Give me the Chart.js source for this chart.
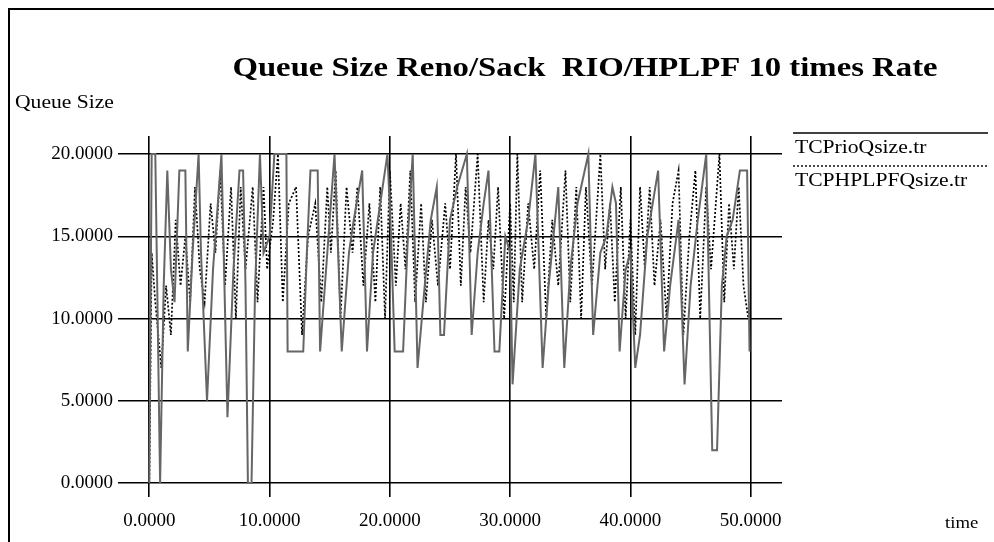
<!DOCTYPE html>
<html>
<head>
<meta charset="utf-8">
<title>Queue Size Reno/Sack RIO/HPLPF</title>
<script src="https://cdn.jsdelivr.net/npm/chart.js@4.4.1/dist/chart.umd.min.js"></script>
<style>
    html, body { margin: 0; padding: 0; background: #fff; }
    canvas { display: block; }
</style>
</head>
<body>
<canvas id="queueChart" width="994" height="542"></canvas>
<script>
// TCPrioQsize.tr trace
const prioTime = [
    0, 0.2, 0.5, 0.9, 1.2, 1.5, 1.8, 2.1, 2.5, 3.0, 3.2, 3.6, 4.1, 4.3, 4.8, 5.3, 6.0, 6.5, 7.0, 7.5,
    7.8, 8.0, 8.2, 8.5, 8.8, 9.2, 9.5, 10.0, 10.4, 11.4, 11.5, 12.8, 13.1, 13.4, 14.0, 14.2, 14.8, 15.4, 15.6, 16.0,
    16.6, 17.0, 17.7, 18.1, 18.6, 19.2, 19.8, 20.1, 20.4, 21.1, 21.5, 21.9, 22.3, 22.9, 23.4, 23.9, 24.2, 24.5, 25.0, 25.6,
    26.4, 26.8, 27.3, 27.8, 28.2, 28.7, 29.1, 29.6, 30.0, 30.2, 30.8, 31.5, 32.1, 32.7, 33.2, 34.0, 34.5, 35.0, 35.6, 36.5,
    36.9, 37.5, 38.0, 38.5, 38.8, 39.1, 39.6, 40.0, 40.4, 40.8, 41.4, 42.3, 42.8, 43.3, 44.0, 44.5, 45.0, 45.6, 46.3, 46.8,
    47.2, 47.6, 48.0, 48.5, 49.1, 49.7, 49.9
];
const prioSize = [
    0, 20, 20, 0, 12, 19, 13, 11, 19, 19, 8, 14, 20, 14, 5, 13, 20, 4, 13, 19,
    19, 12, 0, 0, 12, 20, 14, 15, 20, 20, 8, 8, 14, 19, 19, 8, 14, 20, 16, 8,
    14, 16, 19, 8, 14, 17, 20, 15, 8, 8, 15, 20, 7, 12, 16, 18, 9, 9, 16, 18,
    20, 9, 14, 17, 19, 8, 8, 15, 14, 6, 13, 16, 20, 7, 12, 18, 7, 13, 17, 20,
    9, 14, 15, 18, 17, 8, 13, 14, 7, 9, 15, 19, 8, 12, 16, 6, 12, 16, 20, 2,
    2, 12, 15, 16, 19, 19, 8
];

// TCPHPLPFQsize.tr trace
const hplpfTime = [
    0, 0.2, 0.5, 1.0, 1.4, 1.8, 2.2, 2.6, 3.0, 3.4, 3.8, 4.2, 4.6, 5.1, 5.5, 5.9, 6.3, 6.8, 7.2, 7.6,
    8.0, 8.6, 9.0, 9.5, 9.8, 10.3, 10.7, 11.1, 11.6, 12.2, 12.7, 13.2, 13.8, 14.3, 14.8, 15.1, 15.5, 15.9, 16.4, 16.9,
    17.3, 17.8, 18.3, 18.8, 19.2, 19.6, 20.0, 20.5, 20.9, 21.3, 21.7, 22.1, 22.6, 23.0, 23.5, 24.0, 24.6, 25.0, 25.5, 25.9,
    26.3, 26.7, 27.3, 27.8, 28.2, 28.6, 29.0, 29.5, 30.0, 30.3, 30.6, 31.0, 31.5, 32.0, 32.5, 33.0, 33.5, 34.0, 34.6, 35.0,
    35.5, 35.9, 36.3, 36.8, 37.5, 37.9, 38.3, 38.7, 39.2, 39.6, 40.0, 40.4, 40.8, 41.2, 41.6, 42.0, 42.5, 43.0, 43.5, 44.0,
    44.4, 44.9, 45.4, 45.8, 46.3, 46.7, 47.4, 47.8, 48.2, 48.6, 49.0, 49.4, 49.8
];
const hplpfSize = [
    0, 14, 11, 7, 12, 9, 16, 12, 15, 11, 18, 13, 11, 17, 14, 19, 12, 18, 10, 18,
    13, 18, 11, 18, 13, 16, 20, 11, 17, 18, 9, 15, 17, 11, 18, 14, 19, 10, 18, 14,
    18, 12, 17, 11, 18, 10, 19, 12, 17, 13, 19, 11, 17, 11, 16, 12, 17, 13, 20, 12,
    18, 14, 20, 11, 16, 13, 18, 10, 17, 11, 20, 11, 17, 13, 19, 10, 16, 12, 19, 11,
    18, 10, 18, 12, 20, 13, 17, 11, 18, 10, 16, 9, 18, 13, 18, 12, 16, 10, 17, 19,
    9, 15, 19, 10, 18, 13, 20, 11, 17, 13, 18, 12, 10
];

const timeTicks = [0, 10, 20, 30, 40, 50];
const sizeTicks = [0, 5, 10, 15, 20];

const serif = '"Liberation Serif", "Times New Roman", serif';

function toPoints(xs, ys) {
    return xs.map((x, i) => ({ x: x, y: ys[i] }));
}

// texte étiré horizontalement (police étroite du rendu d'origine)
function stretchText(ctx, text, x, y, sx, align) {
    ctx.save();
    ctx.translate(x, y);
    ctx.scale(sx, 1);
    ctx.textAlign = align || 'left';
    ctx.fillText(text, 0, 0);
    ctx.restore();
}

// cadre, titre, libellés d'axes et légende
const decorations = {
    id: 'decorations',
    afterDraw(chart) {
        const ctx = chart.ctx;
        ctx.save();
        ctx.strokeStyle = '#000';
        ctx.lineWidth = 2;
        ctx.beginPath();
        ctx.moveTo(9, 542);
        ctx.lineTo(9, 9);
        ctx.lineTo(994, 9);
        ctx.stroke();

        ctx.fillStyle = '#000';
        ctx.textBaseline = 'alphabetic';
        ctx.font = 'bold 28px ' + serif;
        stretchText(ctx, 'Queue Size Reno/Sack  RIO/HPLPF 10 times Rate', 585, 76, 1.17, 'center');

        ctx.font = '18px ' + serif;
        stretchText(ctx, 'Queue Size', 15, 108, 1.2, 'left');
        ctx.font = '17px ' + serif;
        stretchText(ctx, 'time', 945, 528, 1.1, 'left');

        // légende à droite
        const rows = [133, 166];
        chart.data.datasets.forEach((ds, i) => {
            ctx.save();
            ctx.strokeStyle = ds.legendColor;
            ctx.lineWidth = 1.5;
            ctx.setLineDash(ds.borderDash || []);
            ctx.beginPath();
            ctx.moveTo(793, rows[i]);
            ctx.lineTo(988, rows[i]);
            ctx.stroke();
            ctx.restore();
            ctx.font = '18px ' + serif;
            stretchText(ctx, ds.label, 795, rows[i] + 20, 1.2, 'left');
        });
        ctx.restore();
    }
};

new Chart(document.getElementById('queueChart'), {
    type: 'line',
    data: {
        datasets: [
            {
                label: 'TCPrioQsize.tr',
                data: toPoints(prioTime, prioSize),
                borderColor: '#666666',
                legendColor: '#000',
                borderWidth: 2,
                pointRadius: 0,
                tension: 0
            },
            {
                label: 'TCPHPLPFQsize.tr',
                data: toPoints(hplpfTime, hplpfSize),
                borderColor: '#000000',
                legendColor: '#111111',
                borderWidth: 1.7,
                borderDash: [2, 2],
                pointRadius: 0,
                tension: 0
            }
        ]
    },
    options: {
        responsive: false,
        animation: false,
        layout: { padding: { left: 8, right: 212, top: 136, bottom: 5 } },
        plugins: {
            legend: { display: false },
            title: { display: false },
            tooltip: { enabled: false }
        },
        scales: {
            x: {
                type: 'linear',
                min: -2.6,
                max: 52.6,
                afterBuildTicks: (scale) => { scale.ticks = timeTicks.map(v => ({ value: v })); },
                afterFit: (scale) => { scale.height = 40; },
                grid: { color: '#000', lineWidth: 1.6, drawTicks: false },
                border: { display: false },
                ticks: {
                    padding: 13,
                    color: '#000',
                    maxRotation: 0,
                    font: { family: serif, size: 19 },
                    callback: (v) => Number(v).toFixed(4)
                }
            },
            y: {
                type: 'linear',
                min: -0.85,
                max: 21.1,
                afterBuildTicks: (scale) => { scale.ticks = sizeTicks.map(v => ({ value: v })); },
                afterFit: (scale) => { scale.width = 110; },
                grid: { color: '#000', lineWidth: 1.6, drawTicks: false },
                border: { display: false },
                ticks: {
                    padding: 5,
                    color: '#000',
                    font: { family: serif, size: 19 },
                    callback: (v) => Number(v).toFixed(4)
                }
            }
        }
    },
    plugins: [decorations]
});
</script>
</body>
</html>
